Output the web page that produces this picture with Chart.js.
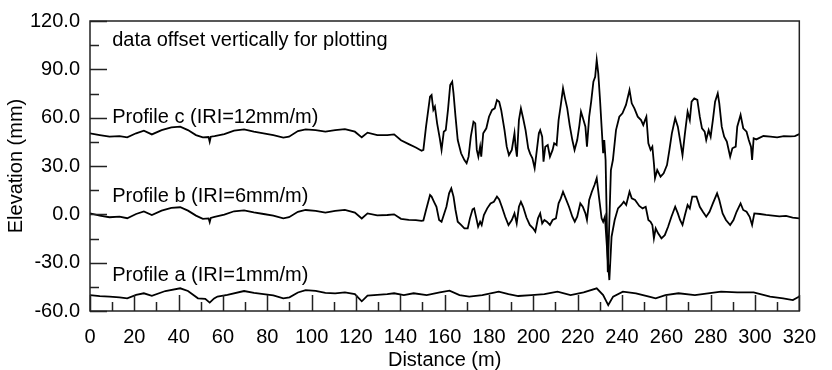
<!DOCTYPE html>
<html>
<head>
<meta charset="utf-8">
<script src="https://cdn.jsdelivr.net/npm/chart.js@4.4.1/dist/chart.umd.min.js"></script>
<style>
  html, body { margin: 0; padding: 0; background: #fff; }
  #wrap { width: 832px; height: 370px; }
</style>
</head>
<body>
<div id="wrap"><canvas id="chart"></canvas></div>
<script>
// Profile c (IRI=12mm/m), offset +50
const distC = [0,4.4,8.8,13.3,16.8,20.8,24.3,27.9,32.3,36.7,40.7,44.2,47.8,50.9,53.5,54,54.5,56.2,60.6,65,69.5,73.9,78.3,82.7,87.2,89.8,93.8,97.3,101.8,106.2,110.6,115,119.5,122.6,125.2,129.6,134.1,137.2,140.3,143.8,147,149.6,150.4,
    151.6,153.4,154.1,154.9,155.6,156.6,157.8,158.6,159.6,160.5,161.5,162.5,163.4,164,164.9,165.9,167.4,168.9,169.9,170.8,171.8,173,173.8,174.5,175.2,176,176.5,177.4,178.8,180,181.4,182.6,183.6,184.6,185.5,187,188,189,190.3,191.5,192,192.6,193.5,194.4,195.4,196.5,197.7,198.6,199.6,200.6,201.6,202.5,203.1,204,204.6,205.4,206.5,207.5,208.7,209.4,210.5,211.4,212.4,213.4,214.3,215.3,216.4,217.6,218.6,219.8,220.8,221.5,222.4,223.5,224.2,225.2,226.1,227.1,227.9,228.6,229.3,230.1,230.8,231.5,232,232.6,233.6,235,235.9,237.3,238.8,240.2,241.8,243.4,244.4,245.6,247.1,248.6,249.6,250.4,251,251.9,252.9,253.7,254.4,254.9,255.9,257.4,258.8,260.3,261.4,262.5,264,265.2,266.2,267.3,268.4,269.6,270.6,271.4,272.6,274,275.1,276.1,277.3,278,279.1,280,281,282,283.2,283.9,285,286.1,287.3,288.8,289.8,291.3,292,293.5,294.7,296.2,297.2,298.2,298.7,299.4,300.6,303.8,307,310,313,316,318,320];
const elevC = [50.3,49.2,48.2,48.6,47.8,50.3,51.9,49.6,52.3,54,54.4,52.3,49.2,47.8,48,45.1,48.2,48.6,49.8,51.9,52.7,51.3,50.3,49.2,47.6,48.2,51.7,52.7,52.3,51.3,52.3,52.9,51.3,47.8,50.7,49.2,49.2,49.6,46,43.6,41.5,39.5,40,
    54.4,73,74,64.8,66.8,56.5,47.2,40,51.3,52.3,64.8,80.3,82.3,75.1,60.6,46.1,37.9,33.7,31.7,35.8,48.2,57.5,56.5,40,35.8,42,35.8,50.3,53.4,60.6,64.8,65.8,71,69.9,64.8,52.3,42,36.8,40,50.3,42,35.8,58.5,65.8,59.6,52.3,41,37.5,34.8,28.6,40,50.3,52.3,48.2,32.7,42,43,35.8,40,44.1,43,58.5,67.9,78.2,72,65.8,55.4,46.1,40,46.1,55.4,63.7,59.6,54.4,42,60.6,69.9,82.3,85.4,95.8,87.5,71,54.4,37.9,46.1,33.7,-36,27.5,33.7,52.3,60.6,62.7,67.9,77.2,68.9,65.8,60.6,58.5,55.4,58.5,60.6,44.1,40,42,31.7,22.4,27.5,23.4,25.5,30.6,40,50.3,59.6,54.4,46.1,36.8,50.3,63.7,58.5,69.9,72,71,60.6,53.4,51.3,46.1,52.3,48.2,58.5,69.9,75.1,68.9,54.4,48.2,45.1,35.8,41,42,54.4,61.7,53.4,51.3,46.1,42,33.7,47.2,46.5,48.6,48.2,47.8,48.5,48.4,48.6,49.8];

// Profile b (IRI=6mm/m), no offset
const distB = [0,4.4,8.8,13.3,16.8,20.8,24.3,27.9,32.3,36.7,40.7,44.2,47.8,50.9,53.5,54,54.5,56.2,60.6,65,69.5,73.9,78.3,82.7,87.2,89.8,93.8,97.3,101.8,106.2,110.6,115,119.5,122.6,125.2,129.6,134.1,137.2,140.3,143.8,147,149.6,150.4,
    151.6,153.4,154.1,155.2,156.3,157.5,158.6,159.6,160.8,162,163,164,164.9,165.9,167.4,168.9,170.4,171.4,172.6,173.3,174.3,175.1,176,176.7,177.7,179.2,180.7,182.2,183.6,184.6,185.8,187.3,188.8,190.3,191.5,192.5,193.5,194.4,195.4,196.9,198.4,199.9,200.9,202.1,203.1,204,205,206.1,207.5,208.7,210.2,211.4,212.4,213.4,214.6,216.1,217.6,218.7,219.8,221.2,222.3,223.5,224.2,225.2,226.4,227.6,228.6,229.6,230.8,231.5,232.3,233.5,234.3,235.3,236.7,238.2,239.7,240.8,241.9,243.4,244.4,245.9,247.8,249.3,250.7,251.9,252.9,253.7,254.4,255.2,256.3,257.8,259.3,260.8,262.3,264,265.2,266.2,267.3,268.4,269.6,270.6,271.7,273.6,275.1,276.5,278,279.5,281,282.9,283.9,285.4,286.9,288.8,290.3,291.7,293.5,294.7,296.2,297.6,298.7,299.7,302.3,305,308,311,314,317,320];
const elevB = [0.6,-0.8,-1.8,-1.4,-2.4,0.2,1.8,-0.4,2.3,4,4.4,2.3,-0.8,-2.8,-2.5,-4.8,-2.2,-1.6,-0.2,1.9,2.5,1.2,0.2,-0.8,-2.5,-1.8,1.6,2.7,2.2,1.1,2.1,2.8,1.1,-2.6,0.6,-0.6,-0.4,0,-2.8,-3.4,-3.6,-4,-3.8,
    2.7,12,11,7.8,4.7,-3.5,-4.6,-0.4,4.7,13,16.1,11,2.7,-4.6,-6.6,-8.7,-8.7,-2.5,3.1,3.7,-2.5,-7.7,-4.6,-6.6,-0.4,3.7,6.8,7.8,11,9.3,4.7,-1.5,-6.6,-3.5,0.6,-5.6,4.7,7.8,4.7,-2,-6.6,-8.7,-10.8,-2.5,0.6,-5.6,-3.5,-4.6,-6.6,-3.5,-2.5,6.8,9.9,14,9.9,4.7,-1.5,-4.6,-1.5,6.8,4.7,0.6,-3.5,8.9,14,18.2,22.4,11,-2.5,-4.6,-1.5,-26.3,-40.8,-13.9,-3.5,3.7,5.8,7.8,5.8,14,9.9,8.9,5.2,3.7,4.7,-3.5,-4.6,-6.6,-14.9,-8.7,-11.8,-14.9,-12.9,-7.7,-1.5,4.7,0.6,-3.5,-6.6,-0.4,5.8,3.7,11,11,4.7,1.6,-1.5,1.6,6.8,13,8.9,0.6,-3.5,-6.6,-3.5,1.6,6.8,2.7,1.6,-1.5,-6.6,0.6,0.2,-0.4,-0.8,-1.3,-1,-2,-2.5];

// Profile a (IRI=1mm/m), offset -50
const distA = [0,4.4,8.8,13.3,16.8,20.8,24.3,27.9,34,40.7,44.2,48.7,52,54,56,57.5,62,69.5,74,78.3,82.7,87.2,90,93.8,97.3,101.8,106.2,110.6,115,119.5,122.6,125.2,129.6,134.1,137.2,141.6,146,151.9,157.8,162.2,166.7,171.1,177,184.4,188.8,193.2,199.1,205,210.9,216.8,222.7,228.6,231.5,233.8,236,240.4,246.3,252.2,255.2,259.6,265.5,272.9,278.8,284.7,292,299.4,306.8,312.7,317.1,320];
const elevA = [-50.1,-50.8,-51.1,-51.5,-52.1,-50,-49,-50.6,-47.6,-45.9,-47.6,-52.1,-52.5,-54.8,-52.2,-51,-50,-47.6,-48.8,-49.5,-50.3,-52.1,-51.5,-48.5,-47,-47.5,-48.8,-49,-48.5,-49.5,-54,-50.5,-50,-49.5,-49,-50.1,-49,-50.1,-48.5,-47.4,-50.1,-51.1,-50.1,-48,-49.5,-50.7,-50.1,-49.5,-48,-50.1,-48.5,-45.9,-50.1,-56.3,-51.1,-48,-49,-51.1,-52.1,-50.1,-49,-50.1,-49,-48,-48.5,-48.5,-51.1,-52.1,-53.2,-51];

// in-plot text labels (position in data units)
const noteTexts = ["data offset vertically for plotting", "Profile c (IRI=12mm/m)", "Profile b (IRI=6mm/m)", "Profile a (IRI=1mm/m)"];
const noteX = [10, 10, 10, 10];
const noteY = [108, 60.4, 11, -38];

const FONT = "'Liberation Sans', Arial, sans-serif";

function toPoints(xs, ys) {
    return xs.map((x, i) => ({ x: x, y: ys[i] }));
}

const frameAndTicks = {
    id: "frameAndTicks",
    afterDatasetsDraw(chart) {
        const ctx = chart.ctx;
        const area = chart.chartArea;
        const xs = chart.scales.x;
        const ys = chart.scales.y;
        ctx.save();
        ctx.strokeStyle = "#222";
        ctx.lineWidth = 1.5;
        ctx.strokeRect(area.left, area.top, area.right - area.left, area.bottom - area.top);
        ctx.beginPath();
        for (let v = -60; v <= 120; v += 15) {
            const py = Math.round(ys.getPixelForValue(v)) + 0.5;
            const len = v % 30 === 0 ? 17 : 9;
            ctx.moveTo(area.left, py);
            ctx.lineTo(area.left + len, py);
        }
        for (let v = 0; v <= 320; v += 10) {
            const px = Math.round(xs.getPixelForValue(v)) + 0.5;
            const len = v % 20 === 0 ? 16 : 9;
            ctx.moveTo(px, area.bottom);
            ctx.lineTo(px, area.bottom - len);
        }
        ctx.stroke();

        ctx.fillStyle = "#000";
        ctx.font = "20px " + FONT;
        ctx.textAlign = "left";
        ctx.textBaseline = "middle";
        noteTexts.forEach((t, i) => {
            ctx.fillText(t, xs.getPixelForValue(noteX[i]), ys.getPixelForValue(noteY[i]));
        });
        ctx.restore();
    }
};

const lineStyle = {
    borderColor: "#000",
    borderWidth: 1.8,
    pointRadius: 0,
    tension: 0,
    fill: false
};

new Chart(document.getElementById("chart"), {
    type: "line",
    data: {
        datasets: [
            Object.assign({ label: "Profile c", data: toPoints(distC, elevC) }, lineStyle),
            Object.assign({ label: "Profile b", data: toPoints(distB, elevB) }, lineStyle),
            Object.assign({ label: "Profile a", data: toPoints(distA, elevA) }, lineStyle)
        ]
    },
    options: {
        responsive: true,
        maintainAspectRatio: false,
        animation: false,
        events: [],
        layout: {
            padding: { top: 21, right: 19, left: 0, bottom: 0 }
        },
        plugins: {
            legend: { display: false },
            tooltip: { enabled: false }
        },
        scales: {
            x: {
                type: "linear",
                min: 0,
                max: 320,
                afterFit: (scale) => { scale.height = 59; },
                grid: { display: false, drawTicks: false },
                border: { display: false },
                ticks: {
                    stepSize: 20,
                    padding: 16,
                    color: "#000",
                    maxRotation: 0,
                    font: { family: FONT, size: 20, lineHeight: 1 }
                },
                title: {
                    display: true,
                    text: "Distance (m)",
                    color: "#000",
                    padding: { top: 0, bottom: 0 },
                    font: { family: FONT, size: 20, lineHeight: 1 }
                }
            },
            y: {
                type: "linear",
                min: -60,
                max: 120,
                afterFit: (scale) => { scale.width = 90; },
                grid: { display: false, drawTicks: false },
                border: { display: false },
                ticks: {
                    stepSize: 30,
                    padding: 10,
                    color: "#000",
                    font: { family: FONT, size: 20, lineHeight: 1 },
                    callback: (v) => Number(v).toFixed(1)
                },
                title: {
                    display: true,
                    text: "Elevation (mm)",
                    color: "#000",
                    padding: { top: 6, bottom: 0 },
                    font: { family: FONT, size: 20, lineHeight: 1 }
                }
            }
        }
    },
    plugins: [frameAndTicks]
});
</script>
</body>
</html>
